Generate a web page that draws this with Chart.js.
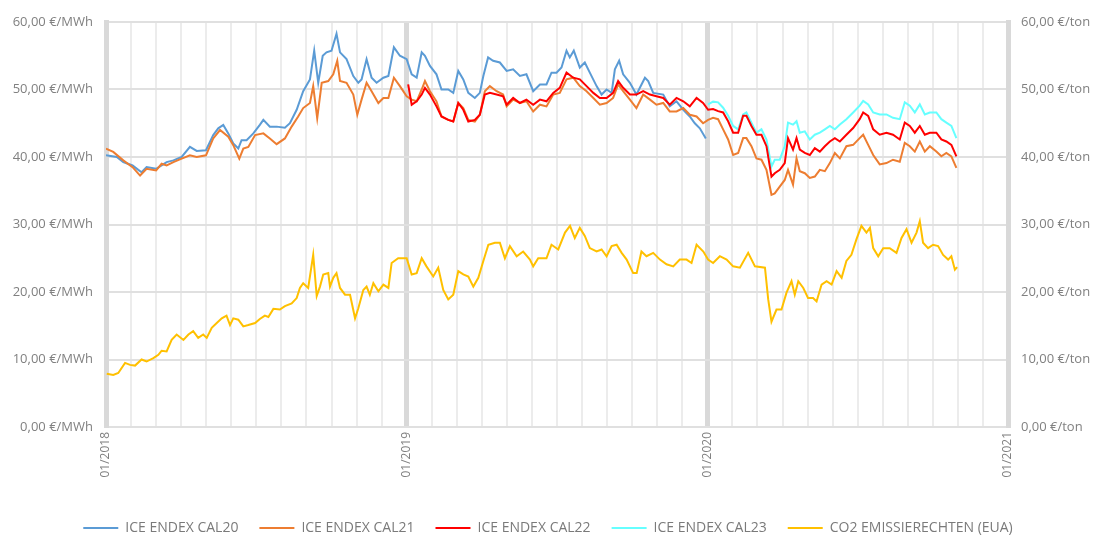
<!DOCTYPE html>
<html>
<head>
<meta charset="utf-8">
<script src="https://cdn.jsdelivr.net/npm/chart.js@4.4.1/dist/chart.umd.min.js"></script>
<style>
  html, body { margin: 0; padding: 0; background: #fff; }
  #wrap { width: 1096px; height: 537px; }
</style>
</head>
<body>
<div id="wrap"><canvas id="priceChart" width="1096" height="537"></canvas></div>
<script>
// x values are months since 01/2018
const yearLabels = ["01/2018", "01/2019", "01/2020", "01/2021"];
const seriesNames = ["ICE ENDEX CAL20", "ICE ENDEX CAL21", "ICE ENDEX CAL22", "ICE ENDEX CAL23", "CO2 EMISSIERECHTEN (EUA)"];

const cal20Months = [0, 0.43, 0.69, 1.06, 1.29, 1.42, 1.62, 2.00, 2.22, 2.42, 2.69, 3.02, 3.35, 3.62, 3.99, 4.28, 4.48, 4.68, 4.88, 5.08,
    5.28, 5.41, 5.61, 5.88, 6.14, 6.28, 6.54, 6.81, 7.14, 7.34, 7.61, 7.87, 8.14, 8.31, 8.47, 8.65, 8.80, 9.00, 9.20, 9.34,
    9.60, 9.87, 10.07, 10.20, 10.40, 10.60, 10.80, 11.07, 11.27, 11.49, 11.73, 12.00,
    12.20, 12.40, 12.60, 12.73, 12.93, 13.19, 13.39, 13.66, 13.86, 14.06, 14.26, 14.46, 14.72, 14.92, 15.06, 15.25, 15.45, 15.72, 15.99, 16.25,
    16.52, 16.78, 17.05, 17.32, 17.58, 17.78, 17.98, 18.18, 18.38, 18.51, 18.67, 18.91, 19.11, 19.31, 19.58, 19.78, 19.98, 20.18, 20.31, 20.48,
    20.64, 20.91, 21.17, 21.51, 21.64, 21.84, 22.24, 22.50, 22.77, 23.04, 23.30, 23.50, 23.70, 23.94];
const cal20Values = [40.25, 40.0, 39.25, 38.75, 38.1, 37.75, 38.5, 38.25, 38.75, 39.25, 39.5, 40.0, 41.5, 40.9, 41.0, 43.25, 44.25, 44.75, 43.5, 42.0,
    41.25, 42.5, 42.5, 43.5, 44.75, 45.5, 44.5, 44.5, 44.35, 45.0, 47.0, 49.75, 51.5, 55.75, 51.0, 55.0, 55.5, 55.75, 58.25, 55.5,
    54.5, 52.0, 51.0, 51.5, 54.5, 51.75, 51.0, 51.75, 52.0, 56.25, 55.0, 54.5,
    52.25, 51.75, 55.5, 55.0, 53.5, 52.25, 50.0, 50.0, 49.5, 52.75, 51.5, 49.5, 48.75, 49.5, 52.0, 54.75, 54.25, 54.0, 52.75, 53.0,
    52.0, 52.25, 49.75, 50.75, 50.75, 52.5, 52.5, 53.25, 55.75, 54.75, 55.75, 53.25, 54.0, 52.5, 50.5, 49.25, 50.0, 49.5, 53.0, 54.25,
    52.25, 51.0, 49.25, 51.75, 51.25, 49.5, 49.25, 47.5, 48.25, 47.0, 46.0, 45.0, 44.25, 42.75];

const months2020 = [24.23, 24.43, 24.63, 24.83, 25.03, 25.23, 25.43, 25.56, 25.76, 25.96, 26.16, 26.36, 26.56, 26.69, 26.89, 27.09, 27.22, 27.42, 27.56, 27.69,
    27.89, 28.09, 28.29, 28.49, 28.69, 28.89, 29.09, 29.29, 29.55, 29.82, 30.08, 30.22, 30.42, 30.62, 30.88, 31.15, 31.41, 31.68, 31.88, 32.08,
    32.28, 32.48, 32.68, 32.88, 33.14, 33.34, 33.54, 33.74, 33.94];

const cal21Months = [0, 0.29, 0.69, 1.06, 1.36, 1.62, 2.00, 2.22, 2.42, 2.69, 3.02, 3.35, 3.62, 3.99, 4.28, 4.55, 4.88, 5.08, 5.32, 5.48,
    5.68, 5.95, 6.28, 6.54, 6.81, 7.14, 7.41, 7.67, 7.87, 8.14, 8.27, 8.43, 8.61, 8.87, 9.07, 9.23, 9.34, 9.60, 9.87, 10.03,
    10.20, 10.40, 10.60, 10.87, 11.07, 11.27, 11.49, 11.73, 12.00,
    12.20, 12.40, 12.60, 12.73, 12.93, 13.19, 13.39, 13.66, 13.86, 14.06, 14.26, 14.46, 14.72, 14.92, 15.12, 15.32, 15.59, 15.85, 15.99, 16.25,
    16.52, 16.78, 17.05, 17.32, 17.58, 17.85, 18.11, 18.38, 18.65, 18.91, 19.18, 19.45, 19.71, 19.98, 20.24, 20.44, 20.64, 20.91, 21.17, 21.44,
    21.71, 21.97, 22.24, 22.50, 22.77, 23.04, 23.30, 23.57, 23.83, 24.03].concat(months2020);
const cal21Values = [41.25, 40.75, 39.5, 38.5, 37.25, 38.25, 38.0, 39.0, 38.75, 39.25, 39.75, 40.25, 40.0, 40.25, 42.75, 44.0, 43.0, 41.75, 39.75, 41.25,
    41.5, 43.25, 43.5, 42.75, 41.9, 42.75, 44.5, 46.0, 47.25, 48.0, 50.5, 45.75, 51.0, 51.25, 52.25, 54.25, 51.25, 51.0, 49.25, 46.25,
    48.5, 51.0, 49.75, 48.0, 48.75, 48.75, 51.75, 50.5, 49.0,
    48.5, 48.25, 50.0, 51.25, 49.75, 48.25, 46.0, 45.5, 45.25, 48.0, 47.25, 45.5, 45.25, 46.25, 49.75, 50.5, 49.75, 49.25, 47.5, 48.5,
    48.0, 48.25, 46.75, 47.75, 47.5, 49.25, 49.5, 51.5, 51.75, 50.5, 49.75, 48.75, 47.75, 48.0, 48.75, 50.75, 49.75, 48.5, 47.25, 49.25,
    48.5, 47.75, 48.0, 46.75, 46.75, 47.25, 46.25, 46.0, 45.0, 45.5,
    45.8, 45.6, 44.1, 42.6, 40.3, 40.6, 42.8, 42.8, 41.6, 39.8, 39.6, 38.1, 34.4, 34.6, 35.6, 36.6, 38.1, 35.9, 39.8, 37.9,
    37.6, 36.9, 37.1, 38.1, 37.9, 39.1, 40.6, 39.8, 41.6, 41.8, 42.8, 43.3, 41.8, 40.3, 38.9, 39.1, 39.6, 39.3, 42.1, 41.6,
    40.8, 42.3, 40.8, 41.6, 40.8, 40.1, 40.6, 40.1, 38.4];

const cal22Months = [12.06, 12.20, 12.40, 12.60, 12.73, 12.93, 13.19, 13.39, 13.66, 13.86, 14.06, 14.26, 14.46, 14.72, 14.92, 15.12, 15.32, 15.59, 15.85, 15.99,
    16.25, 16.52, 16.78, 17.05, 17.32, 17.58, 17.85, 18.11, 18.38, 18.65, 18.91, 19.18, 19.45, 19.71, 19.98, 20.24, 20.44, 20.64, 20.91, 21.17,
    21.44, 21.71, 21.97, 22.24, 22.50, 22.77, 23.04, 23.30, 23.57, 23.83, 24.03].concat(months2020);
const cal22Values = [50.75, 47.75, 48.25, 49.25, 50.25, 49.25, 47.5, 46.0, 45.5, 45.25, 48.0, 47.0, 45.25, 45.5, 46.25, 49.25, 49.5, 49.25, 49.0, 47.75,
    48.75, 48.0, 48.5, 47.75, 48.5, 48.25, 49.5, 50.25, 52.5, 51.75, 51.5, 50.5, 49.5, 48.75, 48.75, 49.5, 51.25, 50.25, 49.25, 49.25,
    49.75, 49.25, 49.0, 48.75, 47.75, 48.75, 48.25, 47.5, 48.75, 48.0, 47.0,
    47.1, 46.8, 46.6, 45.3, 43.6, 43.6, 46.1, 46.1, 44.6, 43.3, 43.3, 41.6, 37.1, 37.6, 38.1, 39.1, 42.8, 41.1, 42.8, 41.1,
    40.6, 40.3, 41.3, 40.8, 41.6, 42.3, 42.8, 42.3, 43.3, 44.3, 45.6, 46.6, 46.1, 44.1, 43.3, 43.6, 43.3, 42.6, 45.1, 44.6,
    43.6, 44.6, 43.3, 43.6, 43.6, 42.6, 42.3, 41.8, 40.1];

const cal23Months = [24.03].concat(months2020);
const cal23Values = [47.8,
    48.2, 48.1, 47.3, 46.1, 44.6, 44.1, 46.3, 46.6, 45.1, 43.6, 44.1, 42.6, 38.6, 39.6, 39.6, 41.6, 45.1, 44.8, 45.3, 43.6,
    43.8, 42.6, 43.3, 43.6, 44.1, 44.6, 44.1, 44.8, 45.6, 46.6, 47.6, 48.3, 47.8, 46.6, 46.3, 46.3, 45.8, 45.6, 48.1, 47.6,
    46.6, 47.8, 46.3, 46.6, 46.6, 45.6, 45.1, 44.6, 42.8];

const co2Months = [0.03, 0.29, 0.49, 0.76, 0.96, 1.16, 1.42, 1.62, 1.89, 2.09, 2.22, 2.42, 2.62, 2.82, 3.09, 3.29, 3.48, 3.68, 3.88, 4.02,
    4.22, 4.42, 4.62, 4.81, 4.95, 5.08, 5.28, 5.48, 5.68, 5.95, 6.14, 6.34, 6.48, 6.68, 6.94, 7.14, 7.41, 7.61, 7.74, 7.87,
    8.07, 8.27, 8.41, 8.54, 8.67, 8.87, 8.94, 9.07, 9.20, 9.34, 9.54, 9.74, 9.94, 10.07, 10.27, 10.40, 10.53, 10.67, 10.87, 11.07,
    11.27, 11.40, 11.66, 12.00, 12.20, 12.40, 12.60, 12.79, 13.06, 13.26, 13.46, 13.66, 13.86, 14.06, 14.26, 14.46, 14.66, 14.86, 15.06, 15.26,
    15.52, 15.72, 15.92, 16.12, 16.39, 16.65, 16.92, 17.05, 17.25, 17.58, 17.78, 18.05, 18.32, 18.52, 18.71, 18.91,
    19.11, 19.31, 19.58, 19.78, 19.98, 20.18, 20.38, 20.58, 20.78, 21.04, 21.18, 21.37, 21.57, 21.84, 22.11, 22.37, 22.64, 22.90, 23.17, 23.37,
    23.57, 23.84, 24.03, 24.23, 24.50, 24.77, 25.03, 25.30, 25.63, 25.90, 26.30, 26.43, 26.56, 26.76, 26.96, 27.16, 27.36, 27.49, 27.63, 27.83,
    28.02, 28.22, 28.36, 28.56, 28.76, 28.96, 29.16, 29.36, 29.55, 29.75, 29.95, 30.15, 30.35, 30.49, 30.62, 30.82, 31.02, 31.28, 31.55, 31.75,
    31.95, 32.15, 32.35, 32.48, 32.61, 32.81, 33.01, 33.21, 33.41, 33.61, 33.74, 33.88, 33.97];
const co2Values = [7.9, 7.7, 8.0, 9.5, 9.2, 9.1, 10.0, 9.7, 10.2, 10.7, 11.3, 11.2, 12.9, 13.7, 12.9, 13.7, 14.2, 13.2, 13.7, 13.2,
    14.7, 15.4, 16.1, 16.5, 15.1, 16.1, 15.9, 14.9, 15.1, 15.4, 16.0, 16.5, 16.3, 17.5, 17.4, 17.9, 18.3, 19.1, 20.6, 21.3,
    20.6, 25.5, 19.4, 20.8, 22.6, 22.8, 20.8, 22.1, 22.8, 20.6, 19.6, 19.6, 16.1, 17.6, 20.3, 20.8, 19.6, 21.3, 20.1, 21.1,
    20.6, 24.3, 25.0, 25.0, 22.6, 22.8, 25.0, 23.8, 22.3, 23.6, 20.3, 18.9, 19.6, 23.1, 22.6, 22.3, 20.8, 22.1, 24.6, 27.0,
    27.3, 27.3, 25.0, 26.8, 25.3, 26.0, 24.8, 23.8, 25.0, 25.0, 27.0, 26.3, 28.8, 29.8, 28.0, 29.5,
    28.3, 26.5, 26.0, 26.3, 25.3, 26.8, 27.0, 25.8, 24.8, 22.8, 22.8, 26.0, 25.3, 25.8, 24.8, 24.1, 23.8, 24.8, 24.8, 24.3,
    27.0, 26.0, 24.8, 24.3, 25.3, 24.8, 23.8, 23.6, 25.8, 23.8, 23.6, 18.9, 15.6, 17.4, 17.4, 19.9, 21.6, 19.6, 21.6, 20.6,
    19.1, 19.1, 18.6, 21.1, 21.6, 21.1, 23.1, 22.1, 24.6, 25.5, 27.8, 29.8, 28.8, 29.5, 26.5, 25.3, 26.5, 26.5, 25.8, 28.0,
    29.3, 27.3, 28.8, 30.5, 27.3, 26.5, 27.0, 26.8, 25.5, 24.8, 25.3, 23.3, 23.7];

const seriesColors = ["#5b9bd5", "#ed7d31", "#ff0000", "#66ffff", "#ffc000"];

/**
 * Pairs a months array with a values array for the linear x scale
 */
function toPoints(months, values) {
    let points = [];
    for (let i = 0; i < months.length; i++) {
        points.push({ x: months[i], y: values[i] });
    }
    return points;
}

function formatValue(value, unit) {
    return value.toFixed(2).replace(".", ",") + " " + unit;
}

const allMonths = [cal20Months, cal21Months, cal22Months, cal23Months, co2Months];
const allValues = [cal20Values, cal21Values, cal22Values, cal23Values, co2Values];
// red on top, then orange, blue, cyan, gold
const drawOrder = [3, 2, 1, 4, 5];

let datasets = [];
for (let i = 0; i < seriesNames.length; i++) {
    datasets.push({
        label: seriesNames[i],
        data: toPoints(allMonths[i], allValues[i]),
        borderColor: seriesColors[i],
        backgroundColor: seriesColors[i],
        borderWidth: 2,
        pointRadius: 0,
        tension: 0,
        order: drawOrder[i],
        yAxisID: i == 4 ? "y1" : "y"
    });
}

const tickFont = { family: "'Open Sans', sans-serif", size: 13 };
const tickColor = "#808080";

const config = {
    type: "line",
    data: { datasets: datasets },
    options: {
        responsive: false,
        animation: false,
        layout: { padding: { top: 22, left: 0, right: 0, bottom: -8 } },
        plugins: {
            legend: {
                position: "bottom",
                labels: {
                    boxWidth: 35,
                    boxHeight: 2,
                    padding: 21,
                    color: "#7a7a7a",
                    font: { family: "'Open Sans', sans-serif", size: 14 },
                    sort: (a, b) => a.datasetIndex - b.datasetIndex,
                    generateLabels: function (chart) {
                        let items = Chart.defaults.plugins.legend.labels.generateLabels(chart);
                        items.forEach(item => { item.lineWidth = 0; });
                        return items;
                    }
                }
            },
            tooltip: { enabled: false }
        },
        scales: {
            x: {
                type: "linear",
                min: 0,
                max: 36,
                border: { display: false },
                grid: {
                    drawTicks: false,
                    color: ctx => ctx.tick && ctx.tick.value % 12 == 0 ? "#d9d9d9" : "#ececec",
                    lineWidth: ctx => ctx.tick && ctx.tick.value % 12 == 0 ? 5 : 2
                },
                ticks: {
                    stepSize: 1,
                    autoSkip: false,
                    minRotation: 90,
                    maxRotation: 90,
                    padding: 5,
                    color: tickColor,
                    font: { family: "'Open Sans', sans-serif", size: 12 },
                    callback: function (value) {
                        return value % 12 == 0 ? yearLabels[value / 12] : "";
                    }
                },
                afterFit: function (scale) { scale.height = 73; }
            },
            y: {
                position: "left",
                min: 0,
                max: 60,
                border: { display: true, width: 5, color: "#d9d9d9" },
                grid: { drawTicks: false, color: "#e0e0e0", lineWidth: 2 },
                ticks: {
                    stepSize: 10,
                    padding: 13,
                    color: tickColor,
                    font: tickFont,
                    callback: value => formatValue(value, "€/MWh")
                },
                afterFit: function (scale) { scale.width = 106; }
            },
            y1: {
                position: "right",
                min: 0,
                max: 60,
                border: { display: true, width: 5, color: "#d9d9d9" },
                grid: { display: false, drawTicks: false },
                ticks: {
                    stepSize: 10,
                    padding: 13,
                    color: tickColor,
                    font: tickFont,
                    callback: value => formatValue(value, "€/ton")
                },
                afterFit: function (scale) { scale.width = 88; }
            }
        }
    }
};

const priceChart = new Chart(document.getElementById("priceChart"), config);
</script>
</body>
</html>
